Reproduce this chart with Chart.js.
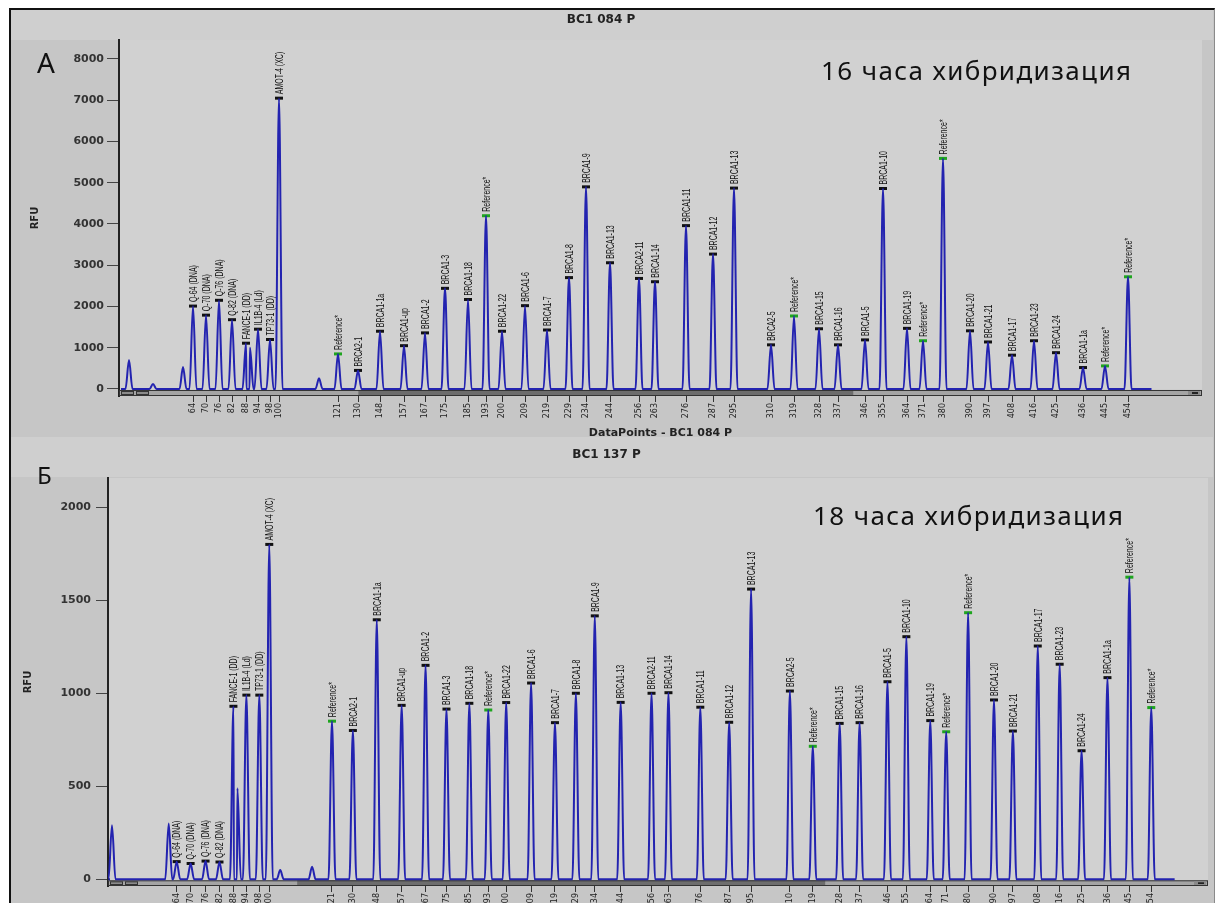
<!DOCTYPE html>
<html>
<head>
<meta charset="utf-8">
<script src="https://cdn.jsdelivr.net/npm/chart.js@4.4.1/dist/chart.umd.min.js"></script>
<style>
body { margin: 0; background: #fff; width: 1215px; height: 903px; overflow: hidden; position: relative; }
#frame { position: absolute; left: 9px; top: 8px; width: 1203px; height: 900px; background: #c6c6c6;
         border-left: 2px solid #111; border-top: 2px solid #111; border-right: 1px solid #8a8a8a; }
.band { position: absolute; left: 11px; width: 1202px; background: #cfcfcf; }
canvas { position: absolute; left: 0; }
.tag { position: absolute; color: #111; line-height: 1; font-family: "Noto Sans", sans-serif; white-space: nowrap; }
.hyb { font-size: 26px; letter-spacing: 1.4px; }
</style>
</head>
<body>
<div id="frame"></div>
<div class="band" style="top:10px;height:30px"></div>
<div class="band" style="top:437px;height:40px"></div>
<canvas id="chartTop" width="1215" height="440" style="top:0"></canvas>
<canvas id="chartBottom" width="1215" height="463" style="top:440px"></canvas>
<div class="tag" style="left:37px;top:48px;font-size:28px">A</div>
<div class="tag" style="left:37px;top:463px;font-size:24px">Б</div>
<div class="tag hyb" style="left:821px;top:57px">16 часа хибридизация</div>
<div class="tag hyb" style="left:813px;top:502px">18 часа хибридизация</div>
<script>
// probe names and fragment sizes (same order in both runs)
const probes = ['Q-64 (DNA)', 'Q-70 (DNA)', 'Q-76 (DNA)', 'Q-82 (DNA)', 'FANCE-1 (DD)', 'IL1B-4 (Ld)', 'TP73-1 (DD)', 'AMOT-4 (XC)',
    'Reference*', 'BRCA2-1', 'BRCA1-1a', 'BRCA1-up', 'BRCA1-2', 'BRCA1-3', 'BRCA1-18', 'Reference*', 'BRCA1-22', 'BRCA1-6',
    'BRCA1-7', 'BRCA1-8', 'BRCA1-9', 'BRCA1-13', 'BRCA2-11', 'BRCA1-14', 'BRCA1-11', 'BRCA1-12', 'BRCA1-13', 'BRCA2-5',
    'Reference*', 'BRCA1-15', 'BRCA1-16', 'BRCA1-5', 'BRCA1-10', 'BRCA1-19', 'Reference*', 'Reference*', 'BRCA1-20', 'BRCA1-21',
    'BRCA1-17', 'BRCA1-23', 'BRCA1-24', 'BRCA1-1a', 'Reference*', 'Reference*'];
const sizes = ['64', '70', '76', '82', '88', '94', '98', '100', '121', '130', '148', '157', '167', '175', '185', '193', '200', '209',
    '219', '229', '234', '244', '256', '263', '276', '287', '295', '310', '319', '328', '337', '346', '355', '364', '371', '380',
    '390', '397', '408', '416', '425', '436', '445', '454'];

// BC1 084 P (16 h): peak position in data points and height in RFU
const topPos = [74, 87, 100, 113, 127, 139, 151, 160, 219, 239, 261, 285, 306, 326, 349, 367, 383, 406, 428, 450, 467, 491,
    520, 536, 567, 594, 615, 652, 675, 700, 719, 746, 764, 788, 804, 824, 851, 869, 893, 915, 937, 964, 986, 1009];
const topRfu = [2010, 1790, 2150, 1680, 1110, 1450, 1200, 7050, 850, 450, 1400, 1050, 1360, 2440, 2170, 4200, 1400, 2020,
    1430, 2700, 4900, 3060, 2680, 2600, 3960, 3270, 4870, 1070, 1770, 1460, 1070, 1190, 4860, 1470, 1170, 5590, 1410, 1140,
    820, 1170, 880, 520, 560, 2720];
const topExtraPos = [10, 34, 64, 131, 200];
const topExtraRfu = [700, 120, 530, 1000, 260];

// BC1 137 P (18 h)
const botPos = [69, 83, 98, 112, 126, 139, 152, 162, 225, 246, 270, 295, 319, 340, 363, 382, 400, 425, 449, 470, 489, 515,
    546, 563, 595, 624, 646, 685, 708, 735, 755, 783, 802, 826, 842, 864, 890, 909, 934, 956, 978, 1004, 1026, 1048];
const botRfu = [95, 85, 98, 93, 930, 990, 990, 1800, 850, 800, 1395, 935, 1150, 915, 946, 910, 950, 1055, 842, 1000, 1416,
    951, 1000, 1003, 925, 844, 1560, 1012, 715, 838, 842, 1062, 1304, 853, 793, 1433, 964, 797, 1254, 1156, 691, 1084, 1624, 923];
const botExtraPos = [4, 61, 130, 173, 205];
const botExtraRfu = [290, 300, 490, 50, 68];

Chart.defaults.font.family = '"DejaVu Sans", sans-serif';
Chart.defaults.color = '#222';

function buildTrace(pos, rfu, extraPos, extraRfu) {
    const pts = [];
    const add = (p, h) => { pts.push({ x: p - 3.5, y: 0 }, { x: p, y: h }, { x: p + 3.5, y: 0 }); };
    pos.forEach((p, i) => add(p, rfu[i]));
    extraPos.forEach((p, i) => add(p, extraRfu[i]));
    pts.sort((a, b) => a.x - b.x);
    pts.unshift({ x: 2, y: 0 });
    pts.push({ x: pts[pts.length - 1].x + 20, y: 0 });
    return pts;
}

const plotBg = {
    id: 'plotBg',
    beforeDraw(chart) {
        const { ctx, chartArea: a } = chart;
        ctx.save();
        ctx.fillStyle = '#d1d1d1';
        ctx.fillRect(a.left, a.top, a.right - a.left, a.bottom - a.top);
        ctx.restore();
    }
};

// the scroll bar under the trace
const scrollBar = {
    id: 'scrollBar',
    beforeDatasetsDraw(chart, args, opts) {
        const { ctx, chartArea: a, scales } = chart;
        const y0 = scales.y.getPixelForValue(0) + 1;
        const h = a.bottom - y0;
        const w = a.right - a.left;
        ctx.save();
        ctx.fillStyle = '#a4a4a4';
        ctx.fillRect(a.left, y0, w, h);
        ctx.fillStyle = '#6d6d6d';
        ctx.fillRect(a.left + w * opts.from, y0, w * (opts.to - opts.from), h);
        ctx.strokeStyle = '#333';
        ctx.lineWidth = 1;
        ctx.strokeRect(a.left + 0.5, y0 + 0.5, w - 1, h - 1);
        // buttons
        ctx.fillStyle = '#8a8a8a';
        ctx.fillRect(a.left + 2, y0 + 1, 13, h - 2);
        ctx.fillRect(a.left + 17, y0 + 1, 13, h - 2);
        ctx.fillRect(a.right - 14, y0 + 1, 12, h - 2);
        ctx.strokeRect(a.left + 2.5, y0 + 1.5, 12, h - 3);
        ctx.strokeRect(a.left + 17.5, y0 + 1.5, 12, h - 3);
        ctx.fillStyle = '#222';
        ctx.fillRect(a.right - 10, y0 + 2, 6, h - 4);
        ctx.restore();
    }
};

// rotated probe names above each peak (condensed like the analyser font)
const peakLabels = {
    id: 'peakLabels',
    afterDatasetsDraw(chart) {
        const { ctx, scales } = chart;
        const data = chart.data.datasets[1].data;
        ctx.save();
        ctx.fillStyle = '#111';
        ctx.font = '10px "Liberation Sans", sans-serif';
        ctx.textAlign = 'left';
        ctx.textBaseline = 'middle';
        data.forEach(d => {
            const px = scales.x.getPixelForValue(d.x);
            const py = scales.y.getPixelForValue(d.y);
            ctx.save();
            ctx.translate(px + 1, py - 4);
            ctx.rotate(-Math.PI / 2);
            ctx.scale(0.7, 1);
            ctx.fillText(d.name, 0, 0);
            ctx.restore();
        });
        ctx.restore();
    }
};

function makeChart(id, cfg) {
    const markers = cfg.pos.map((p, i) => ({ x: p, y: cfg.rfu[i], name: probes[i] }));
    const tickLabel = {};
    cfg.pos.forEach((p, i) => { tickLabel[p] = sizes[i]; });
    return new Chart(document.getElementById(id), {
        type: 'line',
        data: {
            datasets: [{
                data: buildTrace(cfg.pos, cfg.rfu, cfg.extraPos, cfg.extraRfu),
                borderColor: '#2323b0',
                borderWidth: 2,
                pointRadius: 0,
                cubicInterpolationMode: 'monotone'
            }, {
                type: 'scatter',
                data: markers,
                pointStyle: 'line',
                pointRadius: 4,
                pointBorderWidth: 3,
                pointBorderColor: markers.map(m => m.name === 'Reference*' ? '#1ea51e' : '#111'),
                showLine: false
            }]
        },
        options: {
            responsive: false,
            animation: false,
            layout: { padding: { left: 0, right: cfg.padRight, top: 0, bottom: 0 } },
            plugins: {
                legend: { display: false },
                tooltip: { enabled: false },
                title: {
                    display: true,
                    text: cfg.title,
                    font: { size: 12, weight: 'bold' },
                    color: '#222',
                    padding: cfg.titlePad
                },
                scrollBar: cfg.scroll
            },
            scales: {
                x: {
                    type: 'linear',
                    min: 0,
                    max: cfg.xMax,
                    afterBuildTicks: s => { s.ticks = cfg.pos.map(v => ({ value: v })); },
                    afterFit: s => { s.height = cfg.xHeight; },
                    border: { display: false },
                    grid: { drawOnChartArea: false, tickLength: 6, color: '#333' },
                    ticks: {
                        autoSkip: false, minRotation: 90, maxRotation: 90, padding: 1,
                        font: { size: 8 }, color: '#222',
                        callback: v => tickLabel[v] || ''
                    },
                    title: {
                        display: cfg.xTitle !== '',
                        text: cfg.xTitle,
                        font: { size: 11, weight: 'bold' },
                        color: '#222',
                        padding: { top: 9, bottom: 0 }
                    }
                },
                y: {
                    min: cfg.yMin,
                    max: cfg.yMax,
                    afterBuildTicks: s => { s.ticks = cfg.yTicks.map(v => ({ value: v })); },
                    afterFit: s => { s.width = cfg.yWidth; },
                    border: { color: '#222', width: 2 },
                    grid: { drawOnChartArea: false, tickLength: 12, color: '#444' },
                    ticks: {
                        font: { size: 11, weight: 'bold' }, color: '#333', padding: cfg.yTickPad,
                        callback: v => String(v)
                    },
                    title: {
                        display: true,
                        text: 'RFU',
                        font: { size: 10, weight: 'bold' },
                        color: '#222',
                        padding: { top: cfg.yTitlePad, bottom: 0 }
                    }
                }
            }
        },
        plugins: [plotBg, scrollBar, peakLabels]
    });
}

makeChart('chartTop', {
    pos: topPos, rfu: topRfu, extraPos: topExtraPos, extraRfu: topExtraRfu,
    title: 'BC1 084 P', titlePad: { top: 13, bottom: 12.6 },
    xMax: 1083, xHeight: 44, xTitle: 'DataPoints - BC1 084 P',
    yMin: -170, yMax: 8460, yTicks: [0, 1000, 2000, 3000, 4000, 5000, 6000, 7000, 8000],
    yWidth: 119, yTickPad: 3, yTitlePad: 29, padRight: 13,
    scroll: { from: 0.221, to: 0.678 }
});

makeChart('chartBottom', {
    pos: botPos, rfu: botRfu, extraPos: botExtraPos, extraRfu: botExtraRfu,
    title: 'BC1 137 P', titlePad: { top: 8, bottom: 15.6 },
    xMax: 1105, xHeight: 17, xTitle: '',
    yMin: -36, yMax: 2157, yTicks: [0, 500, 1000, 1500, 2000],
    yWidth: 108, yTickPad: 5, yTitlePad: 22, padRight: 2,
    scroll: { from: 0.172, to: 0.652 }
});
</script>
</body>
</html>
